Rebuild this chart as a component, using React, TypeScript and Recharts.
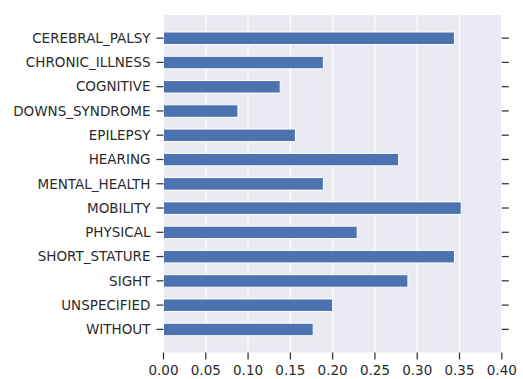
import React from 'react';
import { BarChart, Bar, XAxis, YAxis, CartesianGrid } from 'recharts';

// Share of people in each disability group
const categories = [
  'CEREBRAL_PALSY',
  'CHRONIC_ILLNESS',
  'COGNITIVE',
  'DOWNS_SYNDROME',
  'EPILEPSY',
  'HEARING',
  'MENTAL_HEALTH',
  'MOBILITY',
  'PHYSICAL',
  'SHORT_STATURE',
  'SIGHT',
  'UNSPECIFIED',
  'WITHOUT',
];

const shares = [
  0.344, 0.189, 0.138, 0.088, 0.156, 0.278, 0.189, 0.352, 0.229, 0.344, 0.289, 0.2, 0.177,
];

const xTicks = [0, 0.05, 0.1, 0.15, 0.2, 0.25, 0.3, 0.35, 0.4];

const data = categories.map((name, i) => ({ name, value: shares[i] }));

const FONT = '"DejaVu Sans", sans-serif';
const TEXT = '#2b2b2b';
const FONT_SIZE = 13.5;
const TICK_LINE = { stroke: '#333333', strokeWidth: 1.25 };
const BAND_PAD = { top: 11, bottom: 11 };

const NoLabel = () => <g />;

export default function App() {
  return (
    <div style={{ position: 'absolute', left: 0, top: 0, background: '#fff' }}>
      <BarChart
        width={523}
        height={379}
        data={data}
        layout="vertical"
        margin={{ top: 0, right: 0, bottom: 0, left: 0 }}
        barCategoryGap={0}
      >
        <CartesianGrid
          xAxisId="bottom"
          yAxisId="left"
          horizontal={false}
          vertical
          stroke="#ffffff"
          strokeWidth={1.2}
          fill="#EAEAF2"
          fillOpacity={1}
        />
        <XAxis
          xAxisId="bottom"
          type="number"
          orientation="bottom"
          domain={[0, 0.4]}
          ticks={xTicks}
          tickFormatter={(v: number) => v.toFixed(2)}
          height={26.5}
          axisLine={false}
          tickLine={TICK_LINE}
          tickSize={7}
          tickMargin={5.5}
          interval={0}
          tick={{ fill: TEXT, fontSize: FONT_SIZE, fontFamily: FONT }}
        />
        <XAxis
          xAxisId="top"
          type="number"
          orientation="top"
          domain={[0, 0.4]}
          ticks={xTicks}
          height={15}
          axisLine={false}
          tickLine={TICK_LINE}
          tickSize={8}
          interval={0}
          tick={NoLabel}
        />
        <YAxis
          yAxisId="left"
          type="category"
          dataKey="name"
          orientation="left"
          width={163.5}
          padding={BAND_PAD}
          axisLine={false}
          tickLine={TICK_LINE}
          tickSize={7}
          tickMargin={6}
          interval={0}
          tick={{ fill: TEXT, fontSize: FONT_SIZE, fontFamily: FONT }}
        />
        <YAxis
          yAxisId="right"
          type="category"
          dataKey="name"
          orientation="right"
          width={21.2}
          padding={BAND_PAD}
          axisLine={false}
          tickLine={TICK_LINE}
          tickSize={7}
          interval={0}
          tick={NoLabel}
        />
        <Bar
          xAxisId="bottom"
          yAxisId="left"
          dataKey="value"
          fill="#4C72B0"
          stroke="#ffffff"
          strokeWidth={1}
          barSize={12.5}
          isAnimationActive={false}
        />
      </BarChart>
    </div>
  );
}
